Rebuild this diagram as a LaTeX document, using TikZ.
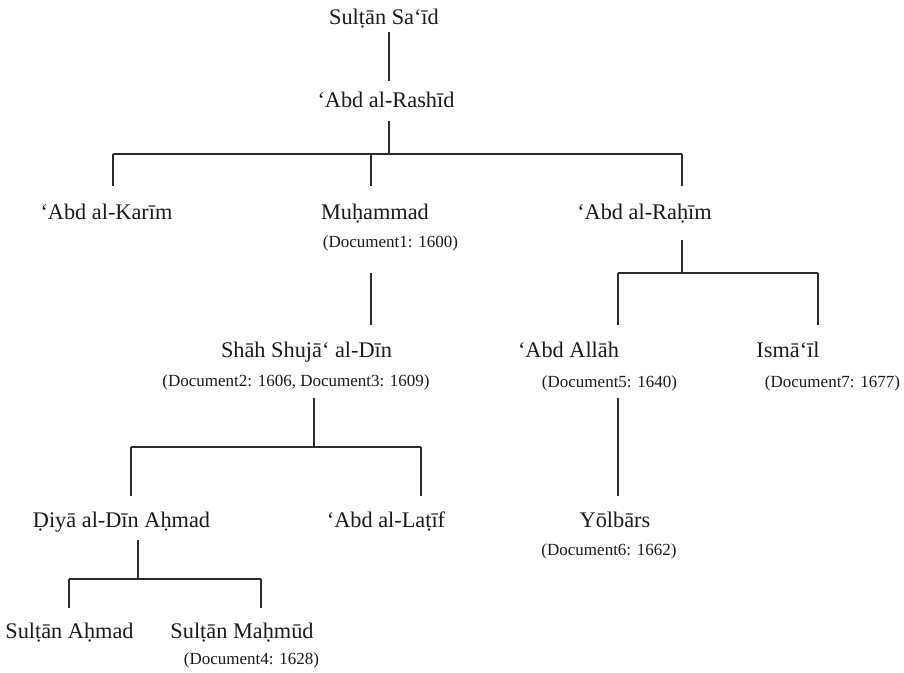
\documentclass[tikz,border=0pt]{standalone}
\usepackage{fontspec}
\setmainfont{Liberation Serif}
\usepackage{tikz}
\usetikzlibrary{calc}
\definecolor{inkCol}{HTML}{1A1A1A}
\definecolor{lineCol}{HTML}{2B2B2B}
\tikzset{
  person/.style={font=\fontsize{22.3}{26}\selectfont, text=inkCol, anchor=base,
                 text height=16pt, text depth=5pt, inner xsep=0pt, inner ysep=3pt},
  docref/.style={font=\fontsize{17}{20}\selectfont, text=inkCol, anchor=base,
                 text height=12.5pt, text depth=4.5pt, inner xsep=0pt, inner ysep=3pt},
  link/.style={draw=lineCol, line width=1.2pt},
  kid/.style={link, shorten >=12pt},
}
\begin{document}
\begin{tikzpicture}[x=1pt,y=-1pt]
  \useasboundingbox (0,0) rectangle (904,672);

  % people, generation by generation
  \node[person] (said)    at (384,24)    {Sulṭān Sa‘īd};
  \node[person] (rashid)  at (386,107)   {‘Abd al-Rashīd};
  \node[person] (karim)   at (106.5,219) {‘Abd al-Karīm};
  \node[person] (muh)     at (375,219)   {Muḥammad};
  \node[docref] (doc1)    at (390.5,247) {(Document1: 1600)};
  \node[person] (rahim)   at (644.5,219) {‘Abd al-Raḥīm};
  \node[person] (shah)    at (306.5,357) {Shāh Shujā‘ al-Dīn};
  \node[docref] (doc23)   at (296,386)   {(Document2: 1606, Document3: 1609)};
  \node[person] (allah)   at (568.5,357) {‘Abd Allāh};
  \node[docref] (doc5)    at (609.5,387) {(Document5: 1640)};
  \node[person] (ismail)  at (788,357)   {Ismā‘īl};
  \node[docref] (doc7)    at (832.5,387) {(Document7: 1677)};
  \node[person] (diya)    at (121.5,527) {Ḍiyā al-Dīn Aḥmad};
  \node[person] (latif)   at (386,527)   {‘Abd al-Laṭīf};
  \node[person] (yol)     at (615,527)   {Yōlbārs};
  \node[docref] (doc6)    at (609,555)   {(Document6: 1662)};
  \node[person] (sahmad)  at (69.5,638)  {Sulṭān Aḥmad};
  \node[person] (smahmud) at (242,638)   {Sulṭān Maḥmūd};
  \node[docref] (doc4)    at (251.5,664) {(Document4: 1628)};

  % bar joints
  \coordinate (b1) at (389,154); \coordinate (b1l) at (113,154);
  \coordinate (b1m) at (371,154); \coordinate (b1r) at (682,154);
  \coordinate (b2) at (682,273); \coordinate (b2l) at (618,273); \coordinate (b2r) at (818,273);
  \coordinate (b3) at (314,447); \coordinate (b3l) at (131,447); \coordinate (b3r) at (421,447);
  \coordinate (b4) at (138,579); \coordinate (b4l) at (69,579);  \coordinate (b4r) at (261,579);

  % lines of descent
  \draw[link, shorten >=7pt] (said.south -| b1) -- (rashid.north -| b1);
  \draw[link, shorten <=6pt] (rashid.south -| b1) -- (b1);
  \draw[link] (b1l) -- (b1r);
  \draw[kid, shorten >=14pt] (b1l) -- (karim.north -| b1l);
  \draw[kid, shorten >=14pt] (b1m) -- (muh.north -| b1m);
  \draw[kid, shorten >=14pt] (b1r) -- (rahim.north -| b1r);

  \draw[link, shorten <=18.5pt, shorten >=13pt] (doc1.south -| b1m) -- (shah.north -| b1m);

  \draw[link, shorten <=13pt] (rahim.south -| b2) -- (b2);
  \draw[link] (b2l) -- (b2r);
  \draw[kid, shorten >=13pt] (b2l) -- (allah.north -| b2l);
  \draw[kid, shorten >=13pt] (b2r) -- (ismail.north -| b2r);

  \draw[link, shorten <=4.5pt] (doc23.south -| b3) -- (b3);
  \draw[link] (b3l) -- (b3r);
  \draw[kid] (b3l) -- (diya.north -| b3l);
  \draw[kid] (b3r) -- (latif.north -| b3r);

  \draw[link, shorten <=3.5pt, shorten >=12pt] (doc5.south -| b2l) -- (yol.north -| b2l);

  \draw[link, shorten <=5pt] (diya.south -| b4) -- (b4);
  \draw[link] (b4l) -- (b4r);
  \draw[kid, shorten >=11pt] (b4l) -- (sahmad.north -| b4l);
  \draw[kid, shorten >=11pt] (b4r) -- (smahmud.north -| b4r);
\end{tikzpicture}
\end{document}
